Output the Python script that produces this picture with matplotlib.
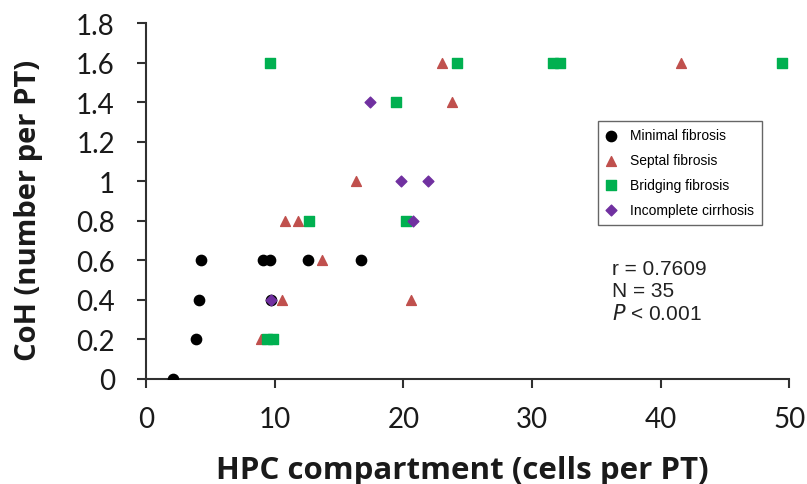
import matplotlib.pyplot as plt

# HPC compartment (x) vs CoH (y) for each fibrosis stage
minimal_x = [2.1, 3.9, 4.1, 4.3, 9.1, 9.6, 12.6, 16.7, 9.7]
minimal_y = [0.0, 0.2, 0.4, 0.6, 0.6, 0.6, 0.6, 0.6, 0.4]

septal_x = [8.9, 10.6, 13.7, 10.8, 11.8, 20.6, 16.3, 23.8, 23.0, 41.6]
septal_y = [0.2, 0.4, 0.6, 0.8, 0.8, 0.4, 1.0, 1.4, 1.6, 1.6]

bridging_x = [9.65, 19.45, 24.2, 31.6, 32.2, 49.4, 12.65, 20.2, 9.4, 9.9]
bridging_y = [1.6, 1.4, 1.6, 1.6, 1.6, 1.6, 0.8, 0.8, 0.2, 0.2]

cirrhosis_x = [17.4, 19.85, 21.9, 20.75, 9.75]
cirrhosis_y = [1.4, 1.0, 1.0, 0.8, 0.4]

xticks = [0, 10, 20, 30, 40, 50]
yticks = [0, 0.2, 0.4, 0.6, 0.8, 1, 1.2, 1.4, 1.6, 1.8]
ytick_labels = ["0", "0.2", "0.4", "0.6", "0.8", "1", "1.2", "1.4", "1.6", "1.8"]

fig = plt.figure(figsize=(8.07, 4.85), dpi=100)
ax = fig.add_axes([0.181, 0.2165, 0.797, 0.734])

ax.scatter(minimal_x, minimal_y, marker="o", s=55, color="black", label="Minimal fibrosis", zorder=3)
ax.scatter(septal_x, septal_y, marker="^", s=50, color="#C0504D", label="Septal fibrosis", zorder=3)
ax.scatter(bridging_x, bridging_y, marker="s", s=48, color="#00B050", label="Bridging fibrosis", zorder=3)
ax.scatter(cirrhosis_x, cirrhosis_y, marker="D", s=30, color="#7030A0", label="Incomplete cirrhosis", zorder=3)

ax.set_xlim(0, 50)
ax.set_ylim(0, 1.8)
ax.set_xticks(xticks)
ax.set_yticks(yticks)
ax.set_yticklabels(ytick_labels)
ax.spines["top"].set_visible(False)
ax.spines["right"].set_visible(False)
for side in ["left", "bottom"]:
    ax.spines[side].set_linewidth(1.5)
    ax.spines[side].set_color("#303030")
ax.tick_params(direction="out", length=6.5, width=1.5, color="#303030", labelsize=20)
ax.tick_params(axis="x", pad=13)
ax.tick_params(axis="y", pad=16)
for lbl in ax.get_xticklabels() + ax.get_yticklabels():
    lbl.set_family("Lato")
    lbl.set_color("#1a1a1a")

ax.set_xlabel("HPC compartment (cells per PT)", fontsize=22.5, fontweight="bold",
              family="Open Sans", color="#1a1a1a")
ax.xaxis.set_label_coords(0.4914, -0.213)
ax.set_ylabel("CoH (number per PT)", fontsize=21, fontweight="bold",
              family="Open Sans", color="#1a1a1a")
ax.yaxis.set_label_coords(-0.183, 0.4775)
ax.yaxis.label.set_verticalalignment("center")

leg = ax.legend(loc="upper left", bbox_to_anchor=(0.741, 0.749),
                bbox_transform=fig.transFigure, frameon=True,
                fancybox=False, edgecolor="#404040", handletextpad=0.95,
                prop={"family": "Liberation Sans", "size": 10}, labelspacing=0.78,
                borderpad=0.55, handlelength=0.8, borderaxespad=0)
leg.get_frame().set_linewidth(1.0)

fig.text(0.758, 0.464, "r = 0.7609\nN = 35\n$\\it{P}$ < 0.001",
         fontsize=15, family="Liberation Sans", va="top", linespacing=1.18,
         color="#222222")

fig.savefig("out.png", dpi=100)
